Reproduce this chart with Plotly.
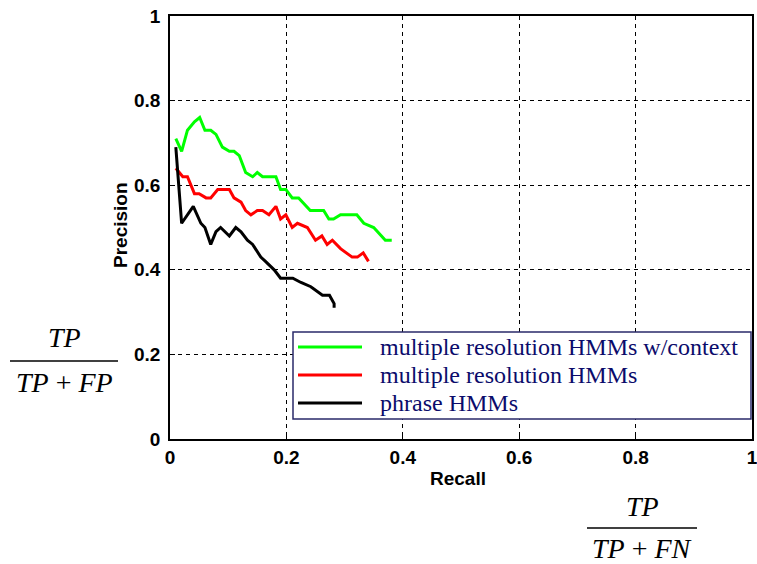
import plotly.graph_objects as go

# precision / recall curves
recall_ctx = [0.010, 0.020, 0.030, 0.042, 0.051, 0.060, 0.070, 0.079, 0.090, 0.102, 0.110,
              0.119, 0.130, 0.142, 0.150, 0.159, 0.173, 0.182, 0.190, 0.199, 0.210, 0.221,
              0.241, 0.264, 0.273, 0.281, 0.293, 0.321, 0.333, 0.350, 0.370, 0.381]
prec_ctx = [0.71, 0.68, 0.73, 0.75, 0.76, 0.73, 0.73, 0.72, 0.69, 0.68, 0.68,
            0.67, 0.63, 0.62, 0.63, 0.62, 0.62, 0.62, 0.59, 0.59, 0.57, 0.57,
            0.54, 0.54, 0.52, 0.52, 0.53, 0.53, 0.51, 0.50, 0.47, 0.47]

recall_multi = [0.010, 0.022, 0.030, 0.042, 0.050, 0.062, 0.070, 0.082, 0.102, 0.110, 0.122,
                0.130, 0.139, 0.150, 0.159, 0.170, 0.182, 0.190, 0.199, 0.210, 0.219, 0.236,
                0.250, 0.261, 0.270, 0.279, 0.293, 0.313, 0.322, 0.332, 0.341]
prec_multi = [0.64, 0.62, 0.62, 0.58, 0.58, 0.57, 0.57, 0.59, 0.59, 0.57, 0.56,
              0.54, 0.53, 0.54, 0.54, 0.53, 0.55, 0.52, 0.53, 0.50, 0.51, 0.50,
              0.47, 0.48, 0.46, 0.47, 0.45, 0.43, 0.43, 0.44, 0.42]

recall_phrase = [0.010, 0.020, 0.040, 0.053, 0.060, 0.070, 0.079, 0.087, 0.102, 0.113, 0.122,
                 0.133, 0.142, 0.156, 0.164, 0.179, 0.190, 0.211, 0.225, 0.242, 0.262, 0.274,
                 0.282, 0.282]
prec_phrase = [0.69, 0.51, 0.55, 0.51, 0.50, 0.46, 0.49, 0.50, 0.48, 0.50, 0.49,
               0.47, 0.46, 0.43, 0.42, 0.40, 0.38, 0.38, 0.37, 0.36, 0.34, 0.34,
               0.32, 0.31]

names = ["multiple resolution HMMs w/context", "multiple resolution HMMs", "phrase HMMs"]
colors = ["#00ff00", "#ff0000", "#000000"]
tick_vals = [0, 0.2, 0.4, 0.6, 0.8, 1]
tick_text = ["0", "0.2", "0.4", "0.6", "0.8", "1"]

W, H = 757, 564
L, R, T, B = 170, 5, 16, 125


def px(x, y):
    # reference pixel position -> paper coords
    return (x - L) / (W - L - R), (H - B - y) / (H - T - B)


fig = go.Figure()
series = [(recall_ctx, prec_ctx), (recall_multi, prec_multi), (recall_phrase, prec_phrase)]
for (rx, py), name, c in zip(series, names, colors):
    fig.add_trace(go.Scatter(x=rx, y=py, mode="lines", name=name,
                             line=dict(color=c, width=3), showlegend=False))

axis_style = dict(
    range=[0, 1], tickvals=tick_vals, ticktext=["<b>%s</b>" % t for t in tick_text],
    showgrid=True, gridcolor="black", automargin=False, ticklabeloverflow="allow",
    griddash="4px,4px", gridwidth=1, showline=True, linecolor="black",
    linewidth=1.5, mirror=True, ticks="inside", ticklen=5, tickcolor="black",
    zeroline=False,
    tickfont=dict(family="Arial", size=19, color="black", weight="bold"),
)
fig.update_xaxes(ticklabelstandoff=0, **axis_style)
fig.update_yaxes(ticklabelstandoff=4, **axis_style)

navy = "#0b0b6b"
shapes = []
annotations = []

# hand drawn legend box
x0, y0 = px(293, 332)
x1, y1 = px(751, 419)
shapes.append(dict(type="rect", xref="paper", yref="paper", x0=x0, y0=y0, x1=x1, y1=y1,
                   line=dict(color="#2a2a6a", width=1.5), fillcolor="white"))
for i, (name, c) in enumerate(zip(names, colors)):
    ly = 347 + i * 28
    a, b = px(298, ly)
    e, _ = px(362, ly)
    shapes.append(dict(type="line", xref="paper", yref="paper", x0=a, y0=b, x1=e, y1=b,
                       line=dict(color=c, width=3)))
    tx, ty = px(378, ly)
    annotations.append(dict(xref="paper", yref="paper", x=tx, y=ty, text=name,
                            showarrow=False, xanchor="left", yanchor="middle",
                            font=dict(family="Liberation Serif", size=24, color=navy)))

# axis titles
ax, ay = px(120, 225)
annotations.append(dict(xref="paper", yref="paper", x=ax, y=ay, text="<b>Precision</b>",
                        textangle=-90, showarrow=False, xanchor="center", yanchor="middle",
                        font=dict(family="Arial", size=19, color="black")))
ax, ay = px(458, 478)
annotations.append(dict(xref="paper", yref="paper", x=ax, y=ay, text="<b>Recall</b>",
                        showarrow=False, xanchor="center", yanchor="middle",
                        font=dict(family="Arial", size=19, color="black")))

# fraction labels
frac_font = dict(family="Liberation Serif", size=28, color="black")
fractions = [("FP", 64, 337, 382, 10, 118, 361),
             ("FN", 642, 506, 548, 587, 697, 528)]
for last, cx, top, bot, lx0, lx1, ly in fractions:
    a, b = px(cx, top)
    annotations.append(dict(xref="paper", yref="paper", x=a, y=b, text="<i>TP</i>",
                            showarrow=False, xanchor="center", yanchor="middle",
                            font=frac_font))
    a, b = px(cx, bot)
    annotations.append(dict(xref="paper", yref="paper", x=a, y=b,
                            text="<i>TP</i> + <i>%s</i>" % last,
                            showarrow=False, xanchor="center", yanchor="middle",
                            font=frac_font))
    a, b = px(lx0, ly)
    e, _ = px(lx1, ly)
    shapes.append(dict(type="line", xref="paper", yref="paper", x0=a, y0=b, x1=e, y1=b,
                       line=dict(color="black", width=1.5)))

fig.update_layout(
    width=W, height=H, margin=dict(l=L, r=R, t=T, b=B),
    paper_bgcolor="white", plot_bgcolor="white",
    shapes=shapes, annotations=annotations, showlegend=False,
)

# drop the browser's default body margin so the figure fills the window
fig.write_html("out.html", config={"displayModeBar": False},
               post_script="document.body.style.margin = '0';")
